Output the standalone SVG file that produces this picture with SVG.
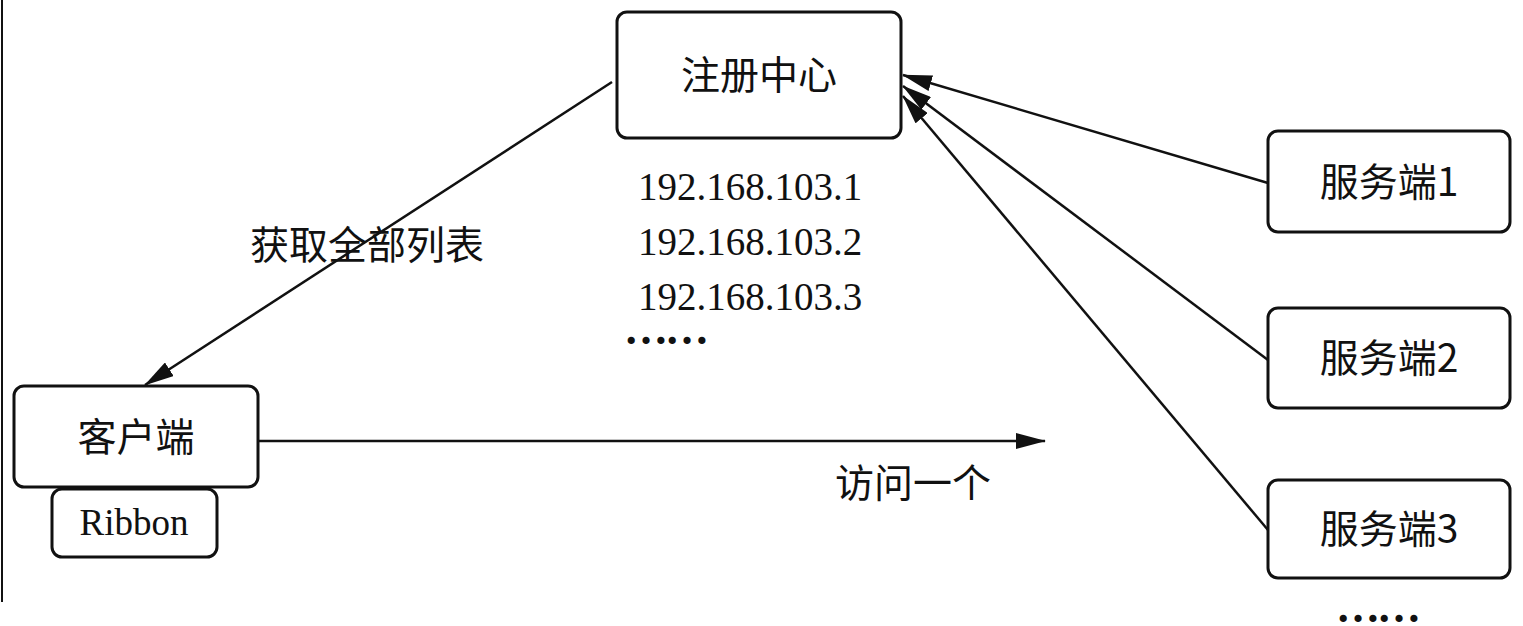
<svg xmlns="http://www.w3.org/2000/svg" width="1523" height="626" viewBox="0 0 1523 626">
<style>
.b{fill:#fff;stroke:#111;stroke-width:3}
.t{font-family:"Noto Sans CJK SC","Liberation Serif",serif;font-size:39px;fill:#111}
.s{font-family:"Liberation Serif",serif;font-size:39px;fill:#111}
.d{font-family:"Liberation Serif",serif;font-size:44px;font-weight:bold;fill:#111;letter-spacing:-3px}
.c{stroke:#111;stroke-width:2.5;fill:none;marker-end:url(#a2)}
</style>
<defs>
<marker id="a2" markerWidth="30" markerHeight="16" refX="29" refY="8" orient="auto" markerUnits="userSpaceOnUse" viewBox="0 0 30 16"><path d="M0,0L30,8L0,16Z" fill="#111"/></marker></defs>
<rect x="0" y="0" width="1523" height="626" fill="#fff"/>
<line x1="2" y1="0" x2="2" y2="602" stroke="#111" stroke-width="2"/>
<g id="connectors">
<path class="c" d="M612,82L145,385"/>
<path class="c" d="M258,441L1045,441"/>
<path class="c" d="M1268,183L903,75"/>
<path class="c" d="M1268,360L903,86"/>
<path class="c" d="M1268,530L903,96"/>
</g>
<g id="center"><rect class="b" x="617" y="12" width="284" height="126" rx="10"/><text class="t" x="759" y="89" text-anchor="middle">注册中心</text></g>
<g id="s1"><rect class="b" x="1268" y="131" width="242" height="101" rx="10"/><text class="t" x="1389" y="196" text-anchor="middle">服务端1</text></g>
<g id="s2"><rect class="b" x="1268" y="308" width="242" height="100" rx="10"/><text class="t" x="1389" y="372" text-anchor="middle">服务端2</text></g>
<g id="s3"><rect class="b" x="1268" y="480" width="242" height="98" rx="10"/><text class="t" x="1389" y="543" text-anchor="middle">服务端3</text></g>
<g id="client"><rect class="b" x="14" y="386" width="244" height="101" rx="10"/><text class="t" x="136" y="451" text-anchor="middle">客户端</text></g>
<g id="ribbon"><rect class="b" x="52" y="489" width="165" height="68" rx="10"/><text class="s" x="134" y="535" text-anchor="middle" style="font-size:37px">Ribbon</text></g>
<g id="labels">
<text class="t" x="250" y="259">获取全部列表</text>
<text class="t" x="835" y="497">访问一个</text>
<text class="s" x="638" y="200">192.168.103.1</text>
<text class="s" x="638" y="255">192.168.103.2</text>
<text class="s" x="638" y="310">192.168.103.3</text>
<text class="d" x="624" y="344">……</text>
<text class="d" x="1336" y="622">……</text>
</g>
</svg>
